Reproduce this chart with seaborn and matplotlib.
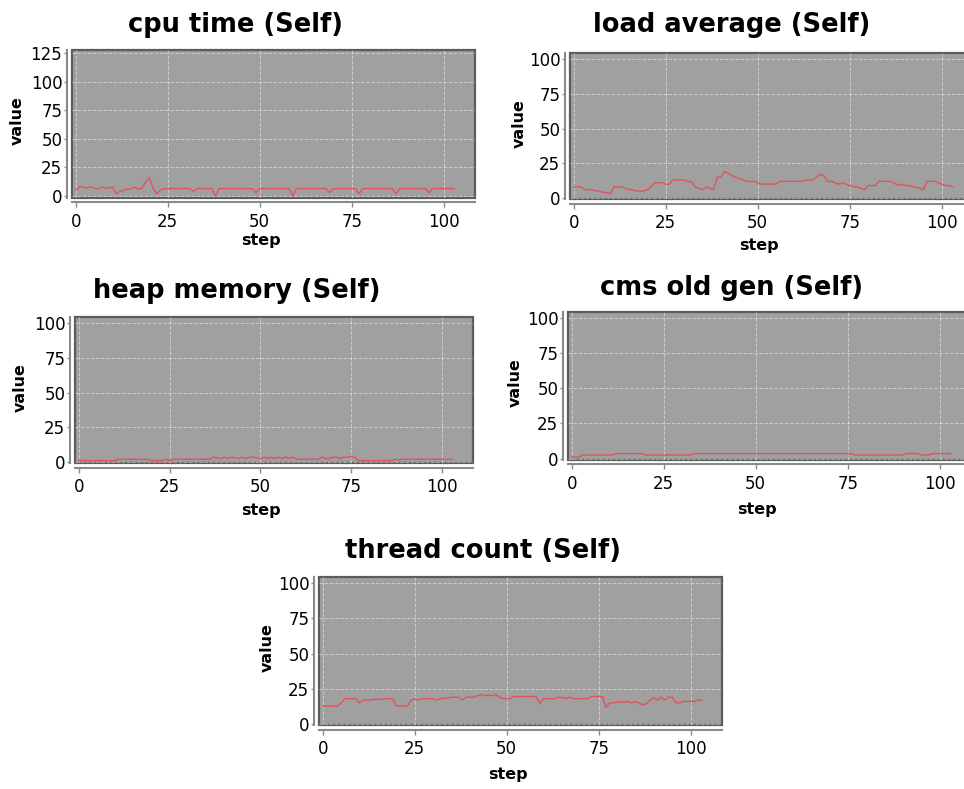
import numpy as np
import pandas as pd
import seaborn as sns
import matplotlib.pyplot as plt

# step index shared by all five charts
steps = list(range(104))

cpu_time = [
    5, 8, 8, 7, 8, 7, 6, 8, 7, 7,
    8, 2, 4, 5, 6, 6, 8, 6, 7, 12,
    16, 7, 2, 5, 6.5, 6.5, 6.5, 6.5, 6.5, 6.5,
    6.5, 6.5, 4, 6.5, 6.5, 6.5, 6.5, 6.5, 0, 6.5,
    6.5, 6.5, 6.5, 6.5, 6.5, 6.5, 6.5, 6.5, 6.5, 3,
    6.5, 6.5, 6.5, 6.5, 6.5, 6.5, 6.5, 6.5, 6.5, 0,
    6.5, 6.5, 6.5, 6.5, 6.5, 6.5, 6.5, 6.5, 6.5, 3,
    6.5, 6.5, 6.5, 6.5, 6.5, 6.5, 6.5, 2, 6.5, 6.5,
    6.5, 6.5, 6.5, 6.5, 6.5, 6.5, 6.5, 2, 6.5, 6.5,
    6.5, 6.5, 6.5, 6.5, 6.5, 6.5, 3, 6.5, 6.5, 6.5,
    6.5, 6.5, 6.5, 6.5,
]

load_average = [
    8, 8, 8, 6, 6, 6, 5, 5, 4, 4,
    3, 8, 8, 8, 7, 6, 6, 5, 5, 5,
    6, 8, 11, 11, 11, 10, 10, 13, 13, 13,
    13, 12, 12, 8, 7, 6, 8, 7, 6, 15,
    15, 19, 18, 16, 15, 14, 13, 12, 12, 12,
    11, 10, 10, 10, 10, 10, 12, 12, 12, 12,
    12, 12, 12, 13, 13, 13, 15, 17, 16, 12,
    12, 11, 10, 11, 10, 9, 8, 8, 7, 6,
    9, 9, 9, 12, 12, 12, 12, 11, 9, 10,
    9, 9, 8, 8, 7, 6, 12, 12, 12, 11,
    10, 9, 9, 8,
]

heap_memory = [
    1, 1, 1, 1, 1, 1, 1, 1, 1, 1,
    1, 2, 2, 2, 2, 2, 2, 2, 2, 2,
    1, 1, 1, 1, 2, 1, 2, 2, 2, 2,
    2, 2, 2, 2, 2, 2, 2, 3.5, 3, 2.5,
    3.5, 2.5, 3.5, 3, 2.5, 3.5, 2.5, 3.5, 3.5, 3,
    2.5, 3.5, 2.5, 3.5, 2.5, 3.5, 2.5, 3.5, 2.5, 3.5,
    2, 2, 2, 2, 2, 2, 2, 3.5, 2.5, 2.5,
    3.5, 3.5, 2.5, 3.5, 3.5, 4, 3.5, 1, 1, 1,
    1, 1, 1, 1, 1, 1, 1, 2, 1.5, 2,
    2, 2, 2, 2, 2, 2, 2, 2, 2, 2,
    2, 2, 2, 2,
]

cms_old_gen = [
    1, 1, 1, 2.5, 2.5, 2.5, 2.5, 2.5, 2.5, 2.5,
    2.5, 2.5, 3.5, 3.5, 3.5, 3.5, 3.5, 3.5, 3.5, 3.5,
    2.5, 2.5, 2.5, 2.5, 2.5, 2.5, 2.5, 2.5, 2.5, 2.5,
    2.5, 2.5, 2.5, 3.5, 3.5, 3.5, 3.5, 3.5, 3.5, 3.5,
    3.5, 3.5, 3.5, 3.5, 3.5, 3.5, 3.5, 3.5, 3.5, 3.5,
    3.5, 3.5, 3.5, 3.5, 3.5, 3.5, 3.5, 3.5, 3.5, 3.5,
    3.5, 3.5, 3.5, 3.5, 3.5, 3.5, 3.5, 3.5, 3.5, 3.5,
    3.5, 3.5, 3.5, 3.5, 3.5, 3.5, 3.5, 2.5, 2.5, 2.5,
    2.5, 2.5, 2.5, 2.5, 2.5, 2.5, 2.5, 2.5, 2.5, 2.5,
    2.5, 3.5, 3.5, 3.5, 3.5, 2.5, 2.5, 2.5, 3.5, 3.5,
    3.5, 3.5, 3.5, 3.5,
]

thread_count = [
    12.7, 12.7, 12.7, 12.7, 12.7, 15, 18, 18, 18, 18,
    15, 17, 17, 17, 17.5, 17.5, 17.5, 18, 18, 18,
    13, 12.7, 12.7, 12.7, 17, 18, 17, 18, 18, 18,
    18, 17, 18, 18, 18.5, 19, 19, 19, 17, 19,
    19, 19, 20, 21, 20, 20.5, 20, 21, 19, 18,
    18, 18, 19.5, 19.5, 19.5, 19.5, 19.5, 19.5, 19.5, 14.5,
    18, 18, 18, 18, 19, 19, 18, 19, 18, 18,
    18, 18, 18, 19.5, 19.5, 19.5, 19.5, 12, 15, 15,
    15.5, 15.5, 15.5, 16, 15, 16, 15, 13.5, 14.5, 17,
    18.5, 17, 19, 17, 19, 19, 15, 15, 16, 16,
    16, 16, 17, 17,
]

titles = ['cpu time (Self)', 'load average (Self)', 'heap memory (Self)',
          'cms old gen (Self)', 'thread count (Self)']
series = [cpu_time, load_average, heap_memory, cms_old_gen, thread_count]
y_ticks = [[0, 25, 50, 75, 100, 125]] + [[0, 25, 50, 75, 100]] * 4

sns.set_style('ticks')
plt.rcParams['font.family'] = ['DejaVu Sans']
plt.rcParams['text.color'] = 'black'
plt.rcParams['axes.labelcolor'] = 'black'

W, H = 964, 789
fig = plt.figure(figsize=(W / 100, H / 100), dpi=100)

# plot-area boxes in pixels: left, top, right, bottom
boxes = [(72, 50, 475, 197.5), (570, 53, 973, 199), (75, 317, 473, 463),
         (568, 312, 971, 459.5), (319, 577, 722, 725)]
ylims = [(-1.3, 127.6)] + [(-0.7, 104.3)] * 4
title_pos = [(236, 32), (732, 32), (237, 298), (732, 295), (483, 558)]
ylab_x = [-0.117, -0.107, -0.118, -0.112, -0.109]
xlab_y = [-0.24, -0.267, -0.274, -0.29, -0.284]

for i in range(5):
    l, t, r, b = boxes[i]
    ax = fig.add_axes([l / W, 1 - b / H, (r - l) / W, (b - t) / H])
    df = pd.DataFrame({'step': steps, 'value': series[i]})
    sns.lineplot(data=df, x='step', y='value', ax=ax, color='#e2525c', linewidth=1)

    ax.set_facecolor('#a0a0a0')
    ax.patch.set_edgecolor('#5c5c5c')
    ax.patch.set_linewidth(1.6)
    ax.set_xlim(-1, 108.5)
    ax.set_ylim(*ylims[i])
    ax.set_xticks([0, 25, 50, 75, 100])
    ax.set_yticks(y_ticks[i])
    ax.grid(True, color='white', linestyle='--', linewidth=0.7, alpha=0.45)
    ax.set_axisbelow(True)

    for side in ['top', 'right']:
        ax.spines[side].set_visible(False)
    for side in ['left', 'bottom']:
        ax.spines[side].set_position(('outward', 3.5))
        ax.spines[side].set_color('#8a8a8a')
        ax.spines[side].set_linewidth(1.5)
    ax.tick_params(axis='x', length=3.5, width=1, color='#8a8a8a', pad=4,
                   labelsize=12, labelcolor='black')
    ax.tick_params(axis='y', length=2.5, width=1, color='#8a8a8a', pad=1,
                   labelsize=12, labelcolor='black')

    ax.set_xlabel('step', fontsize=11.5, fontweight='bold')
    ax.set_ylabel('value', fontsize=11.5, fontweight='bold')
    ax.xaxis.set_label_coords(0.468, xlab_y[i])
    ax.yaxis.set_label_coords(ylab_x[i], 0.52)

    tx, ty = title_pos[i]
    fig.text(tx / W, 1 - ty / H, titles[i], ha='center', va='baseline',
             fontsize=18.5, fontweight='bold')

plt.savefig('out.png', dpi=100)
plt.close()
